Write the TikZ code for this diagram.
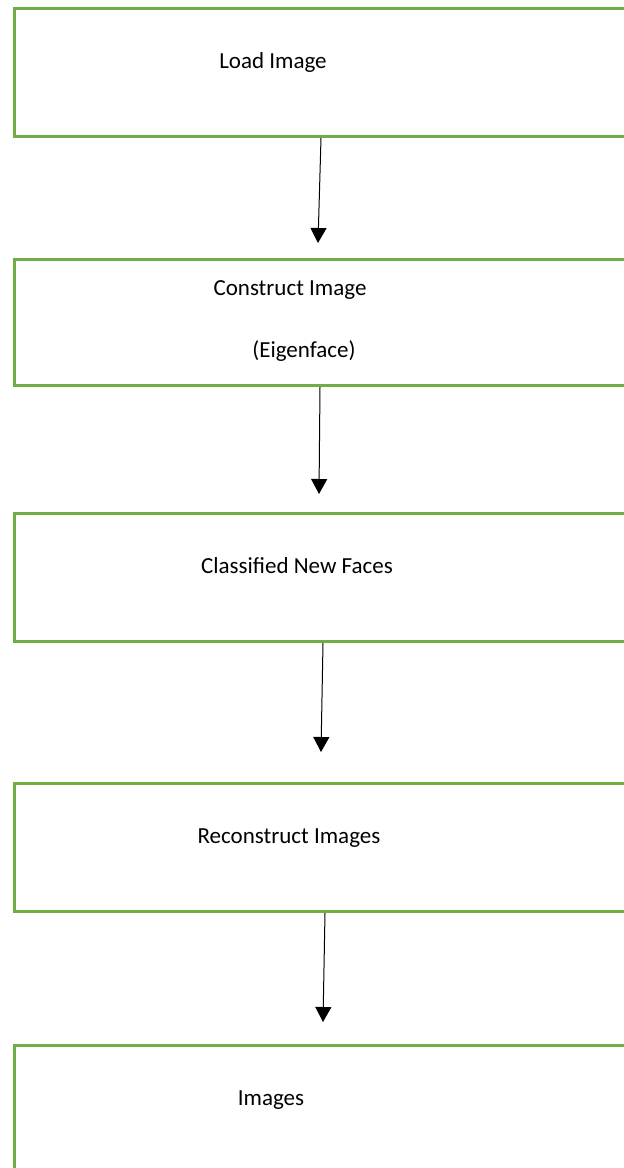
\documentclass[tikz,border=0pt]{standalone}
\usepackage{fontspec}
\setmainfont{Carlito}
\usetikzlibrary{arrows.meta}
\tikzset{
	stagebox/.style={draw=stagegreen,line width=3pt,anchor=north west,minimum width=627pt,inner sep=0pt},%
	stagetext/.style={anchor=base,inner sep=0pt,font=\fontsize{23}{27}\selectfont},%
	flowarrow/.style={-{Triangle[width=16pt,length=15pt]},line width=1pt,black},%
}
\definecolor{stagegreen}{HTML}{70AD47}

\begin{document}
\begin{tikzpicture}[%
		x=1pt,y=-1pt,%
		]
		\path[use as bounding box,clip] (0,0) rectangle (624,1168);
		% boxes
		\node[stagebox,minimum height=128pt] (load) at (13,7) {};
		\node[stagebox,minimum height=126pt] (construct) at (13,258) {};
		\node[stagebox,minimum height=128pt] (classify) at (13,512) {};
		\node[stagebox,minimum height=128pt] (reconstruct) at (13,782) {};
		\node[stagebox,minimum height=160pt] (images) at (13,1044) {};
		% labels
		\node[stagetext] (loadtext) at (273,68) {Load Image};
		\node[stagetext] (constructtext) at (290,295) {Construct Image};
		\node[stagetext] (eigentext) at (304,357) {(Eigenface)};
		\node[stagetext] (classifytext) at (297,573) {Classified New Faces};
		\node[stagetext] (reconstructtext) at (289,843) {Reconstruct Images};
		\node[stagetext] (imagestext) at (271,1105) {Images};
		% arrows
		\draw[flowarrow] ([xshift=308pt]load.south west) -- ([xshift=305pt,yshift=15pt]construct.north west);
		\draw[flowarrow] ([xshift=307pt]construct.south west) -- ([xshift=306pt,yshift=18pt]classify.north west);
		\draw[flowarrow] ([xshift=310pt]classify.south west) -- ([xshift=308pt,yshift=30pt]reconstruct.north west);
		\draw[flowarrow] ([xshift=312pt]reconstruct.south west) -- ([xshift=310pt,yshift=22pt]images.north west);
	\end{tikzpicture}
\end{document}
